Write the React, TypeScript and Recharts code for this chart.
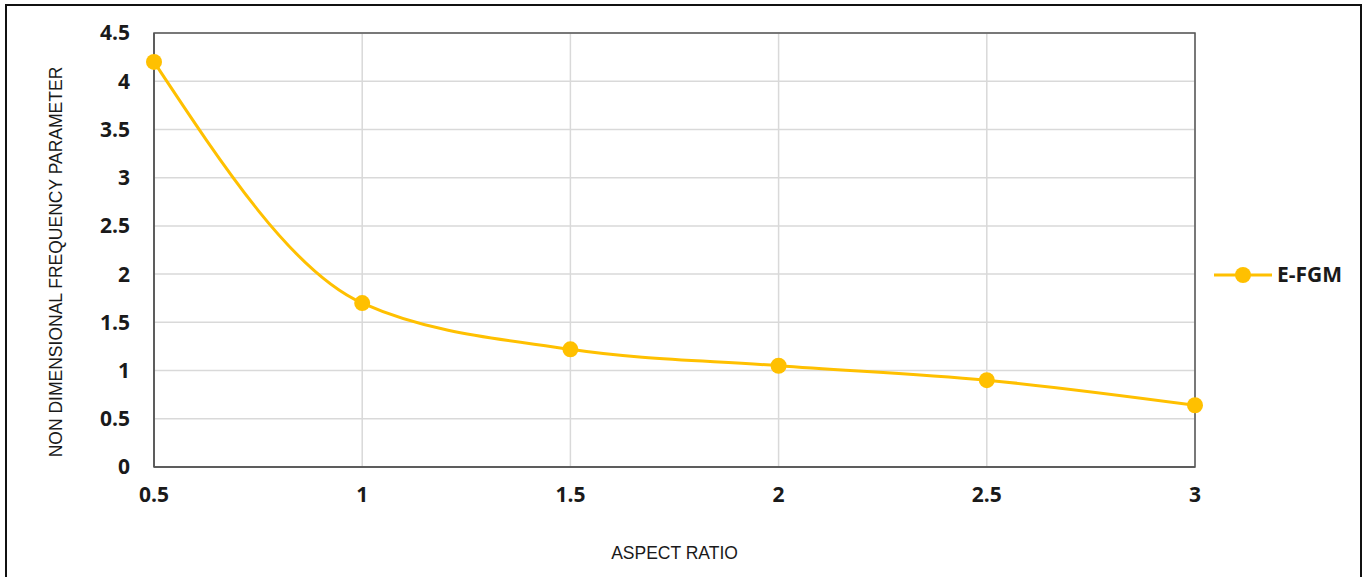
import React from "react";
import {
  CartesianGrid,
  Label,
  Line,
  LineChart,
  ReferenceArea,
  XAxis,
  YAxis,
} from "recharts";

const aspectRatios = [0.5, 1, 1.5, 2, 2.5, 3];
const efgm = [4.2, 1.7, 1.22, 1.05, 0.9, 0.64];
const xTicks = [0.5, 1, 1.5, 2, 2.5, 3];
const yTicks = [0, 0.5, 1, 1.5, 2, 2.5, 3, 3.5, 4, 4.5];
const seriesName = "E-FGM";

const data = aspectRatios.map((ar, i) => ({ ar, efgm: efgm[i] }));

const COLOR = "#FFC000";
const tickStyle = {
  fill: "#1a1a1a",
  fontSize: 21,
  fontWeight: 700,
  fontFamily: "'Open Sans', sans-serif",
};
const titleStyle = {
  fontSize: 17.5,
  fill: "#1a1a1a",
  fontFamily: "'Liberation Sans', Arial, sans-serif",
};

// legend drawn next to the plot, like the excel one
const LegendBox = () => (
  <svg
    width={150}
    height={30}
    style={{ position: "absolute", left: 1212, top: 261 }}
  >
    <line x1={2} y1={14} x2={60} y2={14} stroke={COLOR} strokeWidth={3} />
    <circle cx={31} cy={14} r={8} fill={COLOR} />
    <text
      x={65}
      y={21}
      fontSize={21}
      fontWeight={700}
      fontFamily="'Open Sans', sans-serif"
      fill="#1a1a1a"
    >
      {seriesName}
    </text>
  </svg>
);

const App = () => {
  return (
    <div
      style={{
        position: "absolute",
        left: 0,
        top: 0,
        width: 1364,
        height: 577,
        overflow: "hidden",
        background: "#fff",
      }}
    >
      <div
        style={{
          position: "absolute",
          left: 5,
          top: 4,
          width: 1353,
          height: 620,
          border: "2px solid #111",
        }}
      />
      <LineChart
        width={1364}
        height={577}
        data={data}
        margin={{ top: 33, right: 169, bottom: 0, left: 40 }}
      >
        <CartesianGrid stroke="#d9d9d9" strokeWidth={1.5} />
        <XAxis
          dataKey="ar"
          type="number"
          domain={[0.5, 3]}
          ticks={xTicks}
          tick={tickStyle}
          tickLine={false}
          tickSize={0}
          tickMargin={20}
          axisLine={{ stroke: "#555", strokeWidth: 1.5 }}
          height={110}
        >
          <Label
            value="ASPECT RATIO"
            position="insideBottom"
            offset={18}
            style={titleStyle}
          />
        </XAxis>
        <YAxis
          type="number"
          domain={[0, 4.5]}
          ticks={yTicks}
          tick={tickStyle}
          tickLine={false}
          tickSize={0}
          tickMargin={24}
          axisLine={{ stroke: "#555", strokeWidth: 1.5 }}
          width={114}
        >
          <Label
            value="NON DIMENSIONAL FREQUENCY PARAMETER"
            angle={-90}
            position="center"
            viewBox={{ x: 56, y: 262, width: 0, height: 0 }}
            style={{ ...titleStyle, textAnchor: "middle" }}
          />
        </YAxis>
        <ReferenceArea
          x1={0.5}
          x2={3}
          y1={0}
          y2={4.5}
          fill="none"
          stroke="#555"
          strokeWidth={1.5}
          ifOverflow="visible"
        />
        <Line
          type="monotone"
          dataKey="efgm"
          name={seriesName}
          stroke={COLOR}
          strokeWidth={3}
          dot={{ r: 8, fill: COLOR, stroke: COLOR, strokeWidth: 0 }}
          activeDot={false}
          isAnimationActive={false}
        />
      </LineChart>
      <LegendBox />
    </div>
  );
};

export default App;
